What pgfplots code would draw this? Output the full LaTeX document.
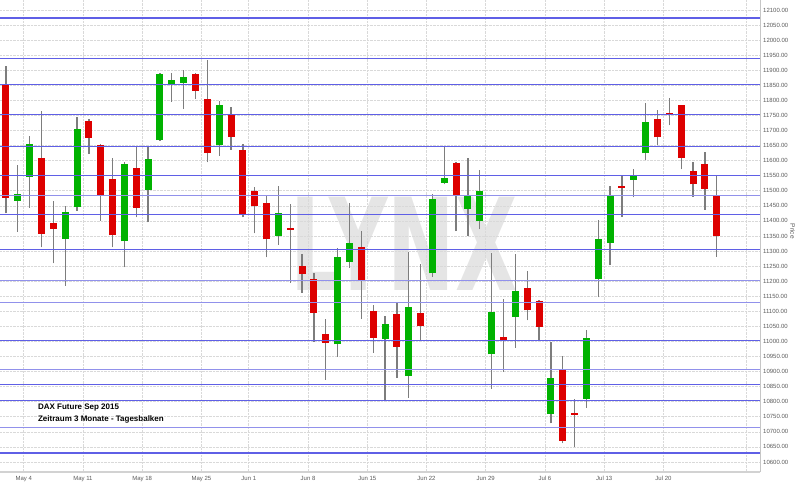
\documentclass[border=0pt]{standalone}
\usepackage{fontspec}
\setmainfont{Liberation Sans}
\newfontfamily\wmfont{DejaVu Sans}
\usepackage{pgfplots}
\usepackage{pgfplotstable}
\pgfplotsset{compat=1.18}
\definecolor{cred}{RGB}{221,0,0}
\definecolor{cgreen}{RGB}{0,178,0}
\definecolor{wick}{RGB}{125,125,125}
\definecolor{lvlblue}{RGB}{95,95,230}
\definecolor{lvlbluel}{RGB}{145,145,235}
\definecolor{tickc}{RGB}{90,90,90}

% red candles: x, body bottom, body top, high, low
\pgfplotstableread{
x bot top hi lo
0 11477 11851 11914 11425
3 11357 11608 11765 11312
4 11373 11394 11467 11259
7 11676 11733 11738 11622
8 11486 11651 11654 11400
9 11352 11539 11608 11312
11 11444 11577 11645 11412
16 11832 11889 11890 11804
17 11625 11804 11934 11594
19 11678 11750 11777 11636
20 11421 11636 11654 11412
21 11448 11500 11512 11359
22 11339 11459 11487 11279
24 11370 11378 11456 11195
25 11223 11250 11290 11161
26 11095 11206 11226 10999
27 10996 11026 11073 10872
30 11202 11313 11366 11074
31 11013 11101 11121 10963
33 10982 11092 11126 10878
35 11051 11093 11256 11002
38 11484 11591 11594 11366
42 11005 11016 11141 10900
44 11103 11176 11233 11070
45 11049 11133 11137 11005
47 10670 10905 10952 10662
48 10756 10763 10808 10651
52 11510 11517 11549 11414
55 11677 11737 11768 11651
56 11751 11758 11807 11717
57 11610 11784 11784 11571
58 11521 11567 11594 11480
59 11506 11589 11630 11437
60 11351 11483 11549 11281
}\reddata

% green candles: x, body bottom, body top, high, low
\pgfplotstableread{
x bot top hi lo
1 11467 11488 11586 11364
2 11547 11654 11682 11444
5 11341 11431 11450 11184
6 11446 11704 11745 11434
10 11332 11590 11595 11246
12 11502 11604 11645 11395
13 11668 11887 11890 11666
14 11852 11869 11890 11796
15 11859 11877 11901 11771
18 11653 11785 11799 11616
23 11350 11426 11515 11321
28 10990 11281 11311 10949
29 11265 11326 11459 11244
32 11009 11057 11083 10806
34 10885 11113 11297 10813
36 11226 11472 11488 11215
37 11527 11543 11646 11521
39 11440 11483 11609 11350
40 11401 11500 11568 11372
41 10957 11099 11294 10843
43 11081 11168 11289 10979
46 10760 10878 10997 10728
49 10809 11012 11038 10780
50 11207 11340 11403 11146
51 11327 11486 11516 11253
53 11536 11552 11571 11478
54 11624 11728 11792 11602
}\greendata

\begin{document}
\begin{tikzpicture}[x=1pt,y=1pt]
\begin{axis}[
  at={(0,0)}, anchor=south west,
  scale only axis, width=760pt, height=472pt,
  xmin=-0.5, xmax=63.65, ymin=10566.6, ymax=12133.2,
  axis x line*=bottom, axis y line*=right,
  x axis line style={draw=gray!35, line width=1.5pt, -},
  y axis line style={draw=gray!45, line width=1pt, -},
  xtick={1.5,6.5,11.5,16.5,20.5,25.5,30.5,35.5,40.5,45.5,50.5,55.5,62.5},
  xticklabels={May 4,May 11,May 18,May 25,Jun 1,Jun 8,Jun 15,Jun 22,Jun 29,Jul 6,Jul 13,Jul 20,{}},
  ytick={10600,10650,...,12100},
  scaled y ticks=false,
  yticklabel={\pgfmathprintnumber[fixed,fixed zerofill,precision=2,1000 sep={}]{\tick}},
  /pgf/number format/assume math mode=true,
  tick style={draw=none},
  ticklabel style={font=\fontsize{6}{7}\selectfont, text=tickc},
  yticklabel style={anchor=west, inner sep=0pt, xshift=3pt},
  xticklabel style={anchor=north, inner sep=0pt, yshift=-4pt},
  grid=major, grid style={gray!30, densely dotted, line width=0.6pt},
  ylabel={Price},
  ylabel style={at={(rel axis cs:1.043,0.51)}, rotate=180, anchor=center, inner sep=0pt, font=\fontsize{6.5}{7}\selectfont, text=tickc},
  set layers=standard,
]
\begin{pgfonlayer}{axis background}
\node[inner sep=0pt, xscale=0.63, text=gray!20, font=\wmfont\fontsize{128}{128}\selectfont\bfseries] at (axis cs:33.6,11325) {LYNX};
\end{pgfonlayer}

% wicks
\addplot[draw=none, mark=none, forget plot, error bars/.cd, y dir=plus, y explicit, error mark=none,
  error bar style={draw=wick, line width=1.3pt, solid}]
  table[x=x, y=lo, y error plus expr=\thisrow{hi}-\thisrow{lo}] {\reddata};
\addplot[draw=none, mark=none, forget plot, error bars/.cd, y dir=plus, y explicit, error mark=none,
  error bar style={draw=wick, line width=1.3pt, solid}]
  table[x=x, y=lo, y error plus expr=\thisrow{hi}-\thisrow{lo}] {\greendata};
% bodies
\addplot[draw=none, mark=none, forget plot, error bars/.cd, y dir=plus, y explicit, error mark=none,
  error bar style={draw=cred, line width=7pt, solid}]
  table[x=x, y=bot, y error plus expr=\thisrow{top}-\thisrow{bot}] {\reddata};
\addplot[draw=none, mark=none, forget plot, error bars/.cd, y dir=plus, y explicit, error mark=none,
  error bar style={draw=cgreen, line width=7pt, solid}]
  table[x=x, y=bot, y error plus expr=\thisrow{top}-\thisrow{bot}] {\greendata};

% horizontal level lines
\pgfplotsinvokeforeach{12073,11940,11852,11752,11646,11551,11421,11305,11004,10856,10805,10630}{
  \addplot[draw=lvlblue, line width=1.3pt, forget plot] coordinates {(-0.5,#1) (63.65,#1)};
}
\pgfplotsinvokeforeach{11483,11201,11129,10907,10714}{
  \addplot[draw=lvlbluel, line width=1.1pt, forget plot] coordinates {(-0.5,#1) (63.65,#1)};
}

\node[anchor=north west, align=left, inner sep=0pt, font=\fontsize{8}{12}\selectfont\bfseries] at (axis cs:2.7,10794) {DAX Future Sep 2015\\Zeitraum 3 Monate - Tagesbalken};
\end{axis}
\pgfresetboundingbox
\useasboundingbox (0,-13) rectangle (800,472);
\end{tikzpicture}
\end{document}
